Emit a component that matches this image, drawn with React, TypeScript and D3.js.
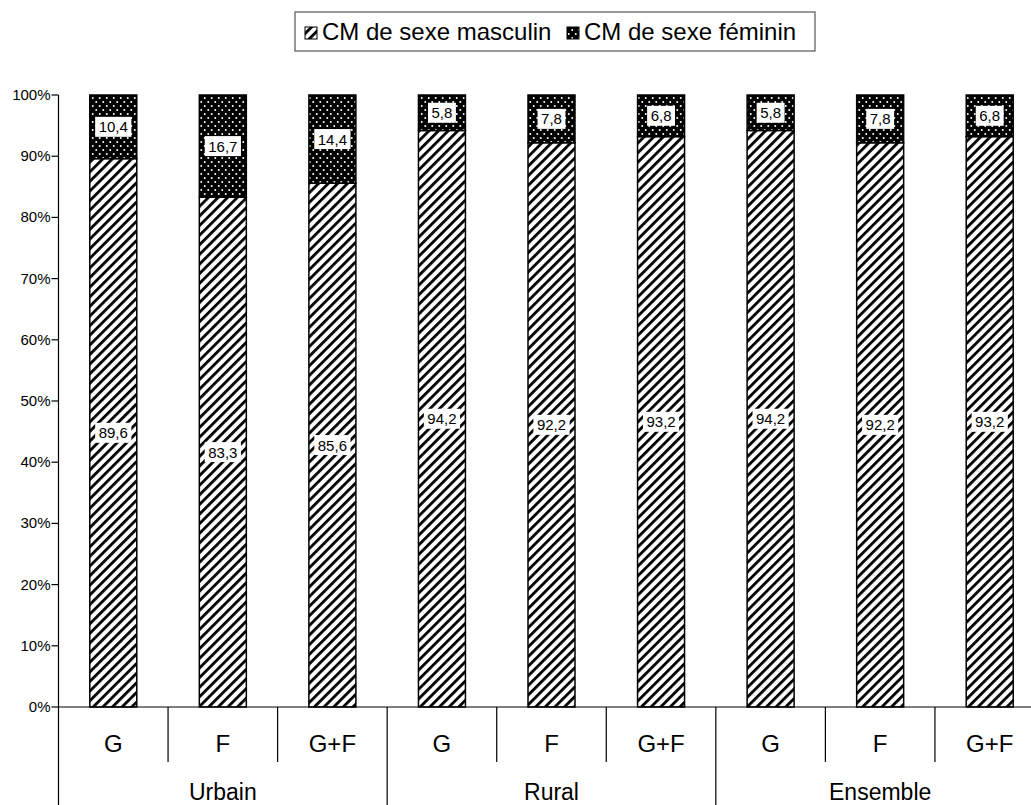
import React from "react";
import * as d3 from "d3";

const categories = ["G", "F", "G+F", "G", "F", "G+F", "G", "F", "G+F"];
const groups = ["Urbain", "Rural", "Ensemble"];
const maleValues = [89.6, 83.3, 85.6, 94.2, 92.2, 93.2, 94.2, 92.2, 93.2];
const femaleValues = [10.4, 16.7, 14.4, 5.8, 7.8, 6.8, 5.8, 7.8, 6.8];
const yTicks = [0, 10, 20, 30, 40, 50, 60, 70, 80, 90, 100];
const seriesNames = ["CM de sexe masculin", "CM de sexe féminin"];

const W = 1031;
const H = 805;
const FONT = "'Liberation Sans', Arial, Helvetica, sans-serif";

const fmt = (v: number) => v.toFixed(1).replace(".", ",");

export default function App() {
  const x0 = 58.5;
  const x1 = 1044.5;
  const yTop = 95;
  const yBottom = 707;
  const x = d3
    .scaleBand<number>()
    .domain(d3.range(categories.length))
    .range([x0, x1])
    .paddingInner(0.571)
    .paddingOuter(0.2855);
  const y = d3.scaleLinear().domain([0, 100]).range([yBottom, yTop]);
  const step = x.step();
  const bw = x.bandwidth();

  const labelBox = (cx: number, cy: number, text: string, key: string) => {
    const w = text.length * 8.3 + 3;
    return (
      <g key={key}>
        <rect x={cx - w / 2} y={cy - 10} width={w} height={20} fill="#fff" />
        <text
          x={cx}
          y={cy + 5.5}
          textAnchor="middle"
          fontSize={15}
          fontFamily={FONT}
          fill="#000"
        >
          {text}
        </text>
      </g>
    );
  };

  return (
    <svg
      width={W}
      height={H}
      style={{ position: "absolute", left: 0, top: 0, display: "block" }}
    >
      <defs>
        <pattern
          id="stripes"
          patternUnits="userSpaceOnUse"
          width={6.8}
          height={6.8}
          patternTransform="rotate(45)"
        >
          <rect width={6.8} height={6.8} fill="#fff" />
          <rect x={0} y={0} width={2.8} height={6.8} fill="#000" />
        </pattern>
        <pattern id="dots" patternUnits="userSpaceOnUse" width={7} height={8}>
          <rect width={7} height={8} fill="#000" />
          <circle cx={1.75} cy={2} r={1} fill="#fff" />
          <circle cx={5.25} cy={6} r={1} fill="#fff" />
        </pattern>
      </defs>
      <rect width={W} height={H} fill="#fff" />

      {/* Legend */}
      <g>
        <rect x={295} y={12} width={520} height={39} fill="#fff" stroke="#555" strokeWidth={1.2} />
        <rect x={305} y={27} width={12} height={12} fill="url(#stripes)" stroke="#000" strokeWidth={1} />
        <text x={322} y={40} fontSize={24} fontFamily={FONT} fill="#000">
          {seriesNames[0]}
        </text>
        <rect x={567} y={27} width={12} height={12} fill="url(#dots)" stroke="#000" strokeWidth={1} />
        <text x={584} y={40} fontSize={24} fontFamily={FONT} fill="#000">
          {seriesNames[1]}
        </text>
      </g>

      {/* Bars */}
      {categories.map((c, i) => {
        const bx = x(i)!;
        const m = maleValues[i];
        const f = femaleValues[i];
        return (
          <g key={"bar" + i}>
            <rect
              x={bx}
              y={y(m)}
              width={bw}
              height={y(0) - y(m)}
              fill="url(#stripes)"
              stroke="#000"
              strokeWidth={1.5}
            />
            <rect
              x={bx}
              y={y(m + f)}
              width={bw}
              height={y(m) - y(m + f)}
              fill="url(#dots)"
              stroke="#000"
              strokeWidth={1.5}
            />
          </g>
        );
      })}

      {/* Data labels */}
      {categories.map((c, i) => {
        const cx = x(i)! + bw / 2;
        const m = maleValues[i];
        const f = femaleValues[i];
        return (
          <g key={"lab" + i}>
            {labelBox(cx, y(m / 2), fmt(m), "m" + i)}
            {labelBox(cx, y(m + f / 2), fmt(f), "f" + i)}
          </g>
        );
      })}

      {/* Y axis */}
      <line x1={x0} x2={x0} y1={yTop} y2={H} stroke="#000" strokeWidth={1.2} />
      {yTicks.map((t) => (
        <g key={"yt" + t}>
          <line x1={x0 - 7} x2={x0} y1={y(t)} y2={y(t)} stroke="#000" strokeWidth={1.2} />
          <text
            x={x0 - 8}
            y={y(t) + 5}
            textAnchor="end"
            fontSize={15}
            fontFamily={FONT}
            fill="#000"
          >
            {t + "%"}
          </text>
        </g>
      ))}

      {/* X axis */}
      <line x1={x0} x2={W} y1={yBottom} y2={yBottom} stroke="#000" strokeWidth={1.2} />
      {d3.range(1, categories.length + 1).map((k) => {
        const sx = x0 + k * step;
        const long = k % 3 === 0;
        return (
          <line
            key={"sep" + k}
            x1={sx}
            x2={sx}
            y1={yBottom}
            y2={long ? H : 762}
            stroke="#000"
            strokeWidth={1.2}
          />
        );
      })}
      {categories.map((c, i) => (
        <text
          key={"cat" + i}
          x={x(i)! + bw / 2}
          y={752}
          textAnchor="middle"
          fontSize={24}
          fontFamily={FONT}
          fill="#000"
        >
          {c}
        </text>
      ))}
      {groups.map((g, gi) => (
        <text
          key={"grp" + gi}
          x={x0 + (gi * 3 + 1.5) * step}
          y={800}
          textAnchor="middle"
          fontSize={23}
          fontFamily={FONT}
          fill="#000"
        >
          {g}
        </text>
      ))}
    </svg>
  );
}
